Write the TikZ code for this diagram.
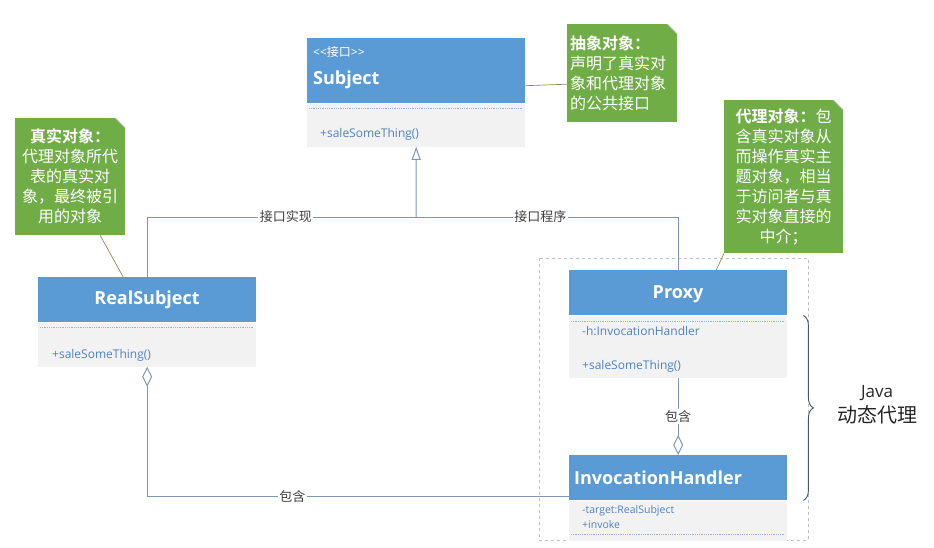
\documentclass[tikz,border=0pt]{standalone}
\usepackage{fontspec}
\setmainfont{Open Sans}
\newfontfamily\cjk{Noto Sans CJK SC}[BoldFont={Noto Sans CJK SC Bold}]
\usetikzlibrary{arrows.meta,decorations.pathreplacing}
\definecolor{hdrblue}{HTML}{5B9BD5}
\definecolor{bodygray}{HTML}{F2F2F2}
\definecolor{membertxt}{HTML}{5082BE}
\definecolor{connclr}{HTML}{7F96B4}
\definecolor{notegreen}{HTML}{70AD47}
\definecolor{grpclr}{HTML}{BFBFBF}
\definecolor{lbltxt}{HTML}{404040}
\definecolor{braceclr}{HTML}{44546A}
\tikzset{
  hdr/.style={fill=hdrblue, inner sep=0, minimum width=218pt, anchor=north west},
  bodybox/.style={fill=bodygray, inner sep=0, minimum width=218pt, anchor=north west},
  title/.style={text=white, inner sep=0, font=\bfseries\fontsize{18}{18}\selectfont},
  member/.style={text=membertxt, inner sep=0, anchor=west, font=\fontsize{12}{12}\selectfont},
  sepline/.style={membertxt!60, densely dotted, line width=0.8pt},
  conn/.style={connclr, line width=1pt},
  lbl/.style={fill=white, inner sep=1.5pt, text=lbltxt, font=\cjk\fontsize{13}{13}\selectfont},
  note/.style={fill=notegreen, text=white, inner sep=0, anchor=north west, font=\cjk\fontsize{16}{20}\selectfont},
  noteline/.style={gray!60!olive, line width=0.7pt},
  grp/.style={grpclr, dashed, line width=0.7pt},
  bracedeco/.style={braceclr, line width=0.9pt, decorate, decoration={brace, amplitude=10pt}}
}
\begin{document}
\begin{tikzpicture}[x=1pt,y=-1pt]
\useasboundingbox (0,0) rectangle (934,547);

% group of the dynamic proxy
\draw[grp] (539,258) rectangle (808,540);

% Subject
\node[hdr, minimum height=65pt] (subjH) at (307,38) {};
\node[bodybox, minimum height=43pt] (subjB) at (subjH.south west) {};
\node[text=white, inner sep=0, anchor=west, font=\fontsize{12}{12}\selectfont] (subjSt) at (313,52) {\textless\kern0pt\textless{\cjk 接口}\textgreater\kern0pt\textgreater};
\node[title, anchor=west] (subjT) at (313,80) {Subject};
\draw[sepline] (309,108) -- (523,108);
\node[member] (subjOp) at (320,134) {+saleSomeThing()};

% RealSubject
\node[hdr, minimum height=45pt] (realH) at (38,277) {};
\node[bodybox, minimum height=44pt] (realB) at (realH.south west) {};
\node[title] (realT) at (147,300) {RealSubject};
\draw[sepline] (40,327) -- (253,327);
\node[member] (realOp) at (52,355) {+saleSomeThing()};

% Proxy
\node[hdr, minimum height=45pt] (proxyH) at (569,270) {};
\node[bodybox, minimum height=62pt] (proxyB) at (proxyH.south west) {};
\node[title] (proxyT) at (678,294) {Proxy};
\draw[sepline] (571,321) -- (785,321);
\node[member] (proxyAt) at (582,331) {-h:InvocationHandler};
\node[member] (proxyOp) at (582,366) {+saleSomeThing()};

% InvocationHandler
\node[hdr, minimum height=45pt] (invH) at (569,455) {};
\node[bodybox, minimum height=40pt] (invB) at (invH.south west) {};
\node[title, anchor=west] (invT) at (574,478) {InvocationHandler};
\node[member, font=\fontsize{10.5}{10.5}\selectfont] (invAt) at (582,511) {-target:RealSubject};
\node[member, font=\fontsize{10.5}{10.5}\selectfont] (invOp) at (582,525) {+invoke};
\draw[sepline] (571,534) -- (785,534);

% notes
\node[note, minimum width=110pt, minimum height=98pt, text width=104pt, align=left] (nAbs) at (567,24)
  {{\bfseries 抽象对象：}\\声明了真实对\\象和代理对象\\的公共接口};
\node[note, minimum width=110pt, minimum height=117pt, text width=110pt, align=center] (nReal) at (15,118)
  {{\bfseries 真实对象：}\\代理对象所代\\表的真实对\\象，最终被引\\用的对象};
\node[note, minimum width=119pt, minimum height=153pt, text width=112pt, align=center] (nProxy) at (724,100)
  {{\bfseries 代理对象：}包\\含真实对象从\\而操作真实主\\题对象，相当\\于访问者与真\\实对象直接的\\中介；};
\foreach \n in {nAbs,nReal,nProxy} {
  \fill[white] ([xshift=-10pt]\n.north east) -- (\n.north east) -- ([yshift=-10pt]\n.north east) -- cycle;
  \draw[gray!50, line width=0.6pt] ([xshift=-10pt]\n.north east) -- ([yshift=-10pt]\n.north east);
}
\draw[noteline] ([yshift=-11pt]nAbs.west) -- ([yshift=-15pt]subjH.east);
\draw[noteline] ([xshift=30pt]nReal.south) -- ([xshift=-24pt]realH.north);
\draw[noteline] (nProxy.south west) -- ([xshift=38pt]proxyH.north);

% connectors
\coordinate (jn) at (416,217);
\draw[conn, -{Triangle[open, width=9pt, length=13pt]}] (jn) -- (subjB.south);
\draw[conn] (realH.north) |- (jn) node[lbl, pos=0.758] (lblImpl) {接口实现};
\draw[conn] (proxyH.north) |- (jn) node[lbl, pos=0.763] (lblProg) {接口程序};
\draw[conn, {Diamond[open, width=10pt, length=20pt]}-] (invH.north) -- (proxyB.south) node[lbl, midway] (lblHas) {包含};
\draw[conn, {Diamond[open, width=10pt, length=20pt]}-] (realB.south) |- ([yshift=4pt]invH.south west) node[lbl, pos=0.672] (lblHas2) {包含};

% brace
\draw[bracedeco] ([xshift=16pt]proxyB.north east) -- ([xshift=16pt]invH.south east);
\node[align=center, text=black!85, inner sep=0, font=\fontsize{17}{25}\selectfont] (dynLbl) at (877,405) {Java\\{\cjk\fontsize{20}{25}\selectfont 动态代理}};
\end{tikzpicture}
\end{document}
